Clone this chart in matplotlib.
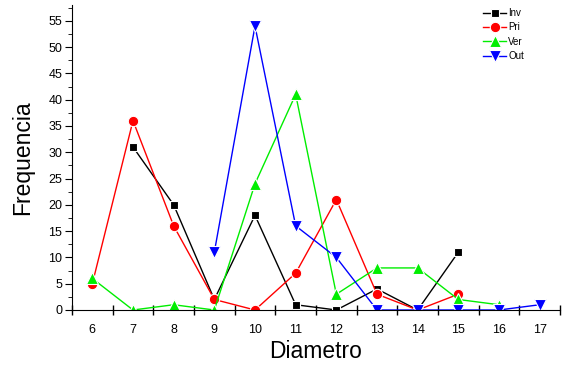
import numpy as np
import matplotlib
matplotlib.use("Agg")
import matplotlib.pyplot as plt

plt.rcParams['font.family'] = ['Liberation Sans', 'DejaVu Sans']

# values
inv_x = [7, 8, 9, 10, 11, 12, 13, 14, 15]
inv_y = [31, 20, 2, 18, 1, 0, 4, 0, 11]
pri_x = [6, 7, 8, 9, 10, 11, 12, 13, 14, 15]
pri_y = [5, 36, 16, 2, 0, 7, 21, 3, 0, 3]
ver_x = [6, 7, 8, 9, 10, 11, 12, 13, 14, 15, 16]
ver_y = [6, 0, 1, 0, 24, 41, 3, 8, 8, 2, 1]
out_x = [9, 10, 11, 12, 13, 14, 15, 16, 17]
out_y = [11, 54, 16, 10, 0, 0, 0, 0, 1]

fig = plt.figure(figsize=(5.66, 3.68), dpi=100)
ax = fig.add_axes([72/566, 58/368, 488/566, 305/368])

ax.plot(inv_x, inv_y, color="black", marker="s", markersize=6, lw=1,
        mec="white", mew=0.8, label="Inv")
ax.plot(pri_x, pri_y, color="red", marker="o", markersize=7.5, lw=1,
        mec="white", mew=0.8, label="Pri")
ax.plot(ver_x, ver_y, color="#00ee00", marker="^", markersize=8, lw=1,
        mec="white", mew=0.8, label="Ver")
ax.plot(out_x, out_y, color="blue", marker="v", markersize=8, lw=1,
        mec="white", mew=0.8, label="Out")

ax.set_xlim(5.5, 17.5)
ax.set_ylim(0, 58)
ax.spines['top'].set_visible(False)
ax.spines['right'].set_visible(False)

ax.set_xticks(np.arange(5.5, 18, 1))
ax.set_xticklabels([])
ax.set_xticks(np.arange(6, 18, 1), minor=True)
ax.set_xticklabels([str(v) for v in range(6, 18)], minor=True)
ax.tick_params(axis='x', which='major', direction='inout', length=7, width=1)
ax.tick_params(axis='x', which='minor', length=0, labelsize=9, pad=10)

ax.set_yticks(np.arange(0, 56, 5))
ax.set_yticks(np.arange(0, 58, 2.5), minor=True)
ax.tick_params(axis='y', which='major', direction='out', length=5, labelsize=9, pad=2)
ax.tick_params(axis='y', which='minor', direction='out', length=3)

ax.set_xlabel("Diametro", fontsize=16.5, labelpad=3)
ax.set_ylabel("Frequencia", fontsize=16.5, labelpad=10)

ax.legend(loc="upper right", bbox_to_anchor=(524/566, 1 - 8/368),
          bbox_transform=fig.transFigure, frameon=False,
          fontsize=7, handlelength=2.4, labelspacing=0.45, handletextpad=0.2,
          borderpad=0, borderaxespad=0)

fig.savefig("out.png", dpi=100)
